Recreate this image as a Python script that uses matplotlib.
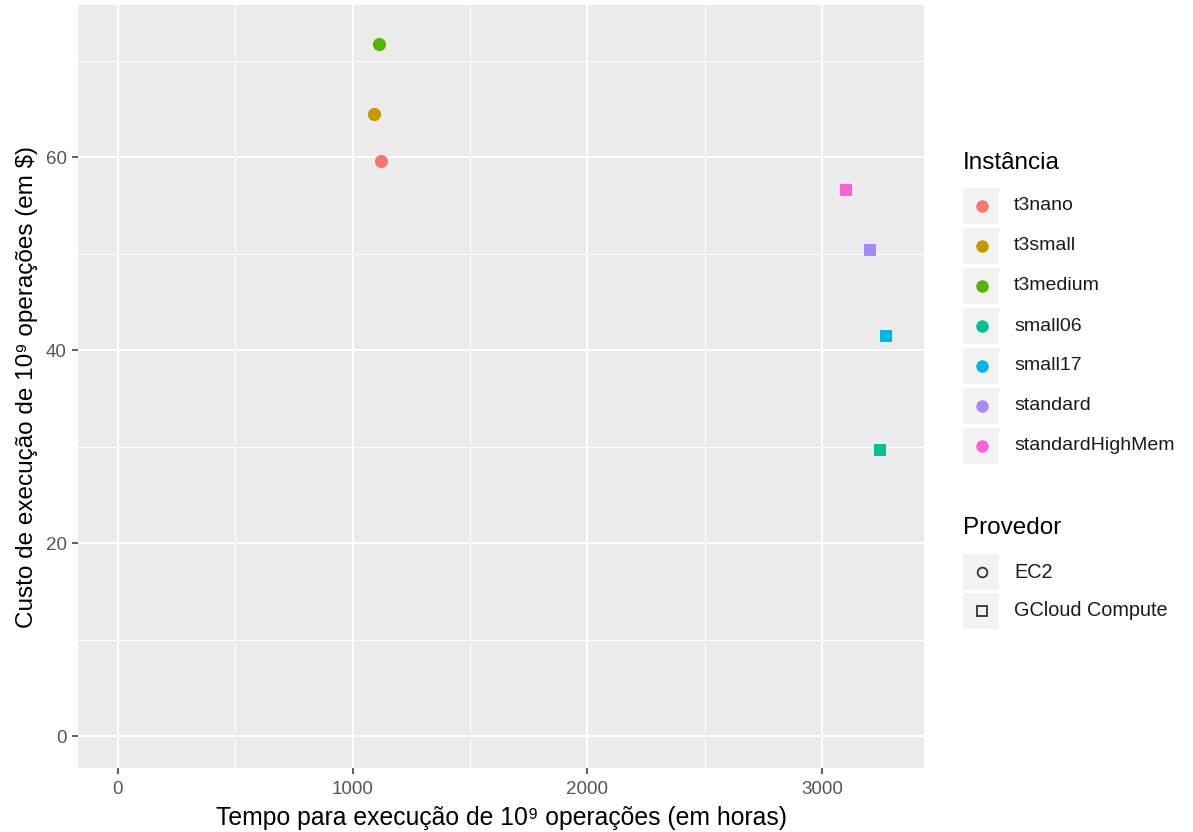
import matplotlib
matplotlib.use("Agg")
import matplotlib.pyplot as plt
from matplotlib.patches import Rectangle
from matplotlib.lines import Line2D

# data
instancias = ["t3nano", "t3small", "t3medium", "small06", "small17", "standard", "standardHighMem"]
provedor = ["EC2", "EC2", "EC2", "GCloud Compute", "GCloud Compute", "GCloud Compute", "GCloud Compute"]
tempo = [1120, 1091, 1112, 3247, 3272, 3204, 3102]
custo = [59.6, 64.5, 71.8, 29.7, 41.5, 50.4, 56.6]

cores = ["#F8766D", "#C49A00", "#53B400", "#00C094", "#00B6EB", "#A58AFF", "#FB61D7"]
marcadores = {"EC2": "o", "GCloud Compute": "s"}

plt.rcParams["font.family"] = ["Liberation Sans", "DejaVu Sans"]

W, H = 1193, 832
fig = plt.figure(figsize=(W / 100, H / 100), dpi=100)
ax = fig.add_axes([78 / W, 1 - 768 / H, (924 - 78) / W, (768 - 5) / H])
ax.set_facecolor("#EBEBEB")

for x, y, c, p in zip(tempo, custo, cores, provedor):
    m = marcadores[p]
    ax.scatter(x, y, color=c, marker=m, s=90 if m == "o" else 75, zorder=3, linewidths=0)

ax.set_xlim(-170, 3434)
ax.set_ylim(-3.3, 75.8)
ax.set_xticks([0, 1000, 2000, 3000])
ax.set_yticks([0, 20, 40, 60])
ax.set_xticks([500, 1500, 2500], minor=True)
ax.set_yticks([10, 30, 50, 70], minor=True)
ax.grid(which="major", color="white", linewidth=1.5)
ax.grid(which="minor", color="white", linewidth=0.75)
ax.set_axisbelow(True)
for s in ax.spines.values():
    s.set_visible(False)
ax.tick_params(which="major", length=4, width=1.1, color="#333333", labelcolor="#555555",
               labelsize=13.5)
ax.tick_params(axis="x", pad=5)
ax.tick_params(axis="y", pad=4)
ax.tick_params(which="minor", length=0)

ax.set_xlabel("Tempo para execução de 10⁹ operações (em horas)", fontsize=17.8, labelpad=6)
ax.set_ylabel("Custo de execução de 10⁹ operações (em $)", fontsize=17.5, labelpad=6)

# legend: Instância
def key_box(y_center):
    fig.add_artist(Rectangle((963 / W, 1 - (y_center + 18) / H), 36 / W, 36 / H,
                             transform=fig.transFigure, facecolor="#F2F2F2", edgecolor="none"))

fig.text(963 / W, 1 - 163 / H, "Instância", fontsize=17.5, va="center", ha="left")
for i, (nome, c) in enumerate(zip(instancias, cores)):
    yc = 206 + i * 40
    key_box(yc)
    fig.add_artist(Line2D([981.5 / W], [1 - yc / H], marker="o", color=c, markersize=9,
                          markeredgewidth=0, transform=fig.transFigure))
    fig.text(1014 / W, 1 - yc / H, nome, fontsize=14, va="center", ha="left", color="#1A1A1A")

fig.text(963 / W, 1 - 528 / H, "Provedor", fontsize=17.5, va="center", ha="left")
for i, p in enumerate(["EC2", "GCloud Compute"]):
    yc = 572 + i * 39
    key_box(yc)
    fig.add_artist(Line2D([981.5 / W], [1 - yc / H], marker=marcadores[p], color="#333333",
                          markerfacecolor="none", markersize=7 if p == "EC2" else 6.5,
                          markeredgewidth=1.3, transform=fig.transFigure))
    fig.text(1014 / W, 1 - yc / H, p, fontsize=14.3, va="center", ha="left", color="#1A1A1A")

fig.savefig("out.png", dpi=100)
